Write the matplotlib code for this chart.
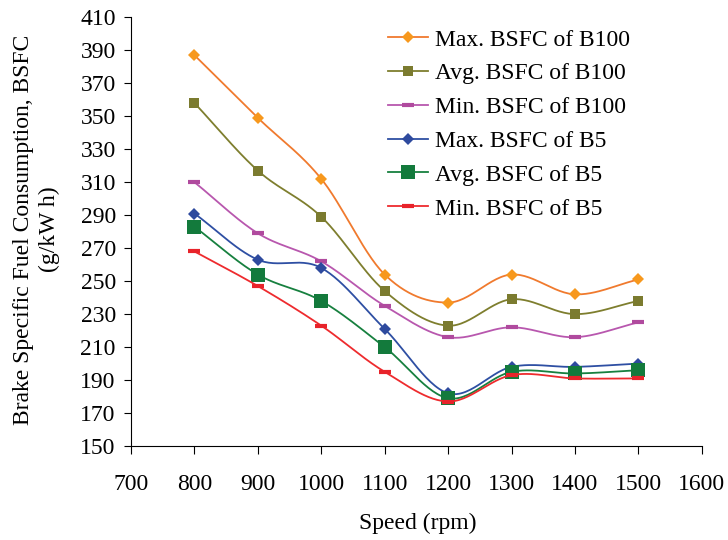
import numpy as np
import matplotlib
matplotlib.use("Agg")
import matplotlib.pyplot as plt

plt.rcParams['font.family'] = ['Liberation Serif', 'DejaVu Serif']

speed = [800, 900, 1000, 1100, 1200, 1300, 1400, 1500]

max_b100 = [387, 349, 312, 254, 237, 254, 242, 251]
avg_b100 = [358, 317, 289, 244, 223, 239, 230, 238]
min_b100 = [310, 279, 262, 235, 216, 222, 216, 225]
max_b5 = [291, 263, 258, 221, 182, 198, 198, 200]
avg_b5 = [283, 254, 238, 210, 179, 195, 194, 196]
min_b5 = [268, 247, 223, 195, 177, 193, 191, 191]

labels = ["Max. BSFC of B100", "Avg. BSFC of B100", "Min. BSFC of B100",
          "Max. BSFC of B5", "Avg. BSFC of B5", "Min. BSFC of B5"]


def smooth(x, y, n=30):
    # catmull-rom style smoothing, like excel's smoothed line
    x = np.asarray(x, float)
    y = np.asarray(y, float)
    px = np.concatenate([[2 * x[0] - x[1]], x, [2 * x[-1] - x[-2]]])
    py = np.concatenate([[2 * y[0] - y[1]], y, [2 * y[-1] - y[-2]]])
    xs, ys = [], []
    t = np.linspace(0, 1, n)
    for i in range(1, len(px) - 2):
        p0, p1, p2, p3 = px[i - 1], px[i], px[i + 1], px[i + 2]
        q0, q1, q2, q3 = py[i - 1], py[i], py[i + 1], py[i + 2]
        c1x, c1y = p1 + (p2 - p0) / 6, q1 + (q2 - q0) / 6
        c2x, c2y = p2 - (p3 - p1) / 6, q2 - (q3 - q1) / 6
        bx = (1 - t) ** 3 * p1 + 3 * (1 - t) ** 2 * t * c1x + 3 * (1 - t) * t ** 2 * c2x + t ** 3 * p2
        by = (1 - t) ** 3 * q1 + 3 * (1 - t) ** 2 * t * c1y + 3 * (1 - t) * t ** 2 * c2y + t ** 3 * q2
        xs.extend(bx)
        ys.extend(by)
    return np.array(xs), np.array(ys)


styles = [
    dict(data=max_b100, lc="#F07A2E", mc="#F7981D", marker="D", ms=6.5, mew=0),
    dict(data=avg_b100, lc="#7E7E2E", mc="#7B7B2F", marker="s", ms=6.5, mew=0),
    dict(data=min_b100, lc="#B857AE", mc="#B04A9E", marker="_", ms=9, mew=3),
    dict(data=max_b5, lc="#2E4FA3", mc="#2E4A9E", marker="D", ms=6.5, mew=0),
    dict(data=avg_b5, lc="#17803F", mc="#137A3C", marker="s", ms=10, mew=0),
    dict(data=min_b5, lc="#EE2B2E", mc="#E8232A", marker="_", ms=9, mew=3),
]

fig = plt.figure(figsize=(7.28, 5.4), dpi=100)
ax = fig.add_axes([0.180, 0.174, 0.784, 0.794])

for st, lab in zip(styles, labels):
    sx, sy = smooth(speed, st["data"])
    ax.plot(sx, sy, color=st["lc"], linewidth=1.3)
    ax.plot(speed, st["data"], linestyle="none", marker=st["marker"], markersize=st["ms"],
            markerfacecolor=st["mc"], markeredgecolor=st["mc"], markeredgewidth=st["mew"])
    ax.plot([], [], color=st["lc"], linewidth=1.3, marker=st["marker"], markersize=st["ms"],
            markerfacecolor=st["mc"], markeredgecolor=st["mc"], markeredgewidth=st["mew"], label=lab)

ax.set_xlim(700, 1600)
ax.set_ylim(150, 410)
ax.set_xticks(range(700, 1601, 100))
ax.set_yticks(range(150, 411, 20))
ax.spines['top'].set_visible(False)
ax.spines['right'].set_visible(False)
ax.tick_params(axis='x', direction='out', length=6, pad=14, labelsize=17)
ax.tick_params(axis='y', direction='out', length=5, pad=6, labelsize=17)

ax.set_xlabel("Speed (rpm)", fontsize=17)
ax.xaxis.label.set_va('center')
ax.xaxis.set_label_coords(0.503, -0.18)
ax.set_ylabel("Brake Specific Fuel Consumption, BSFC\n(g/kW h)", fontsize=17, linespacing=1.3)
ax.yaxis.label.set_va('center')
ax.yaxis.set_label_coords(-0.166, 0.505)

ax.legend(loc="upper left", bbox_to_anchor=(388 / 728, 1 - 29 / 540), bbox_transform=fig.transFigure,
          frameon=False, fontsize=17, handlelength=1.7, handletextpad=0.3, labelspacing=0.52,
          borderpad=0, borderaxespad=0)

fig.savefig("out.png", dpi=100)
